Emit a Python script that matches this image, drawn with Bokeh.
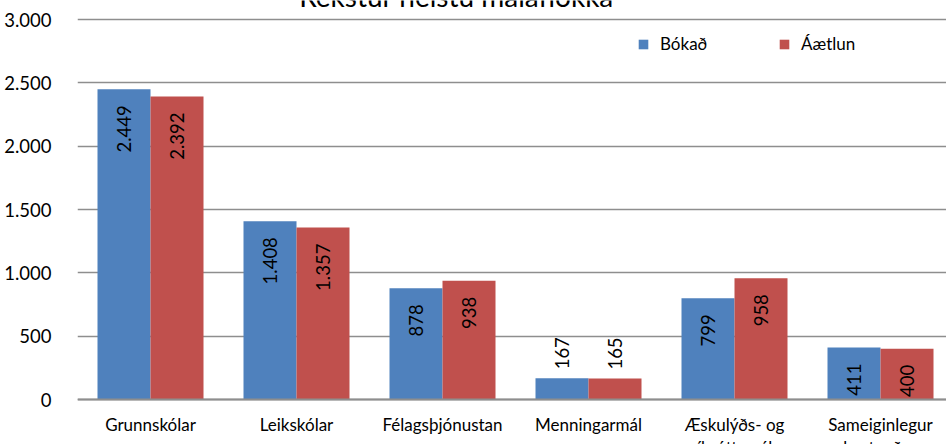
import math
from bokeh.plotting import figure
from bokeh.models import Range1d, FixedTicker, ColumnDataSource, Legend, LegendItem
from bokeh.core.properties import value
from bokeh.embed import file_html
from bokeh.resources import INLINE

# ---- data ----
title_text = "Rekstur helstu málaflokka"
categories = ["Grunnskólar", "Leikskólar", "Félagsþjónustan", "Menningarmál",
              "Æskulýðs- og\níþróttamál", "Sameiginlegur\nkostnaður"]
series_names = ["Bókað", "Áætlun"]
bokad = [2449, 1408, 878, 167, 799, 411]
aaetlun = [2392, 1357, 938, 165, 958, 400]
y_ticks = [0, 500, 1000, 1500, 2000, 2500, 3000]
y_tick_labels = ["0", "500", "1.000", "1.500", "2.000", "2.500", "3.000"]

# ---- style ----
FONT = "Lato"
FS = "17px"
NFS = "18.5px"
BLUE = "#4F81BD"
RED = "#C0504D"
GRID = "#8e8e8e"

W, H = 946, 444
FRAME_LEFT = 77
ZERO_Y = 399          # pixel row of the value 0
PX_PER_UNIT = 380 / 3000.0
FRAME_W = W - FRAME_LEFT
CAT_PX = 146.0
BAR_W = 53 / CAT_PX

def fmt(v):
    return f"{v:,}".replace(",", ".")

p = figure(width=W, height=H, output_backend="svg", toolbar_location=None,
           x_range=Range1d(0, FRAME_W / CAT_PX),
           y_range=Range1d(-(H - ZERO_Y) / PX_PER_UNIT, ZERO_Y / PX_PER_UNIT),
           min_border_left=FRAME_LEFT, min_border_right=0, min_border_top=0,
           min_border_bottom=0)
p.outline_line_color = None
p.background_fill_color = "white"
p.border_fill_color = "white"

p.xgrid.grid_line_color = None
p.ygrid.ticker = FixedTicker(ticks=y_ticks)
p.ygrid.grid_line_color = GRID
p.ygrid.grid_line_width = 1.5

renderers = []
for k, (vals, color) in enumerate(zip([bokad, aaetlun], [BLUE, RED])):
    off = (-0.5 + k) * BAR_W
    xs = [i + 0.5 + off for i in range(len(categories))]
    src = ColumnDataSource(dict(x=xs, top=vals))
    r = p.vbar(x="x", top="top", width=BAR_W, bottom=0, source=src,
               fill_color=color, line_color=None)
    renderers.append(r)
    # value labels: inside end when they fit, else outside end
    inside = [v * PX_PER_UNIT > 45 for v in vals]
    ins = ColumnDataSource(dict(x=[x for x, f in zip(xs, inside) if f],
                                y=[v for v, f in zip(vals, inside) if f],
                                t=[fmt(v) for v, f in zip(vals, inside) if f]))
    outs = ColumnDataSource(dict(x=[x for x, f in zip(xs, inside) if not f],
                                 y=[v for v, f in zip(vals, inside) if not f],
                                 t=[fmt(v) for v, f in zip(vals, inside) if not f]))
    p.text(x="x", y="y", text="t", source=ins, angle=math.pi / 2,
           text_align="right", text_baseline="middle", y_offset=16,
           text_font=value(FONT), text_font_size=NFS, text_color="black")
    p.text(x="x", y="y", text="t", source=outs, angle=math.pi / 2,
           text_align="left", text_baseline="middle", y_offset=-9,
           text_font=value(FONT), text_font_size=NFS, text_color="black")

# title (cut by the top edge of the window as in the reference)
p.text(x=[(456 - FRAME_LEFT) / CAT_PX], y=[ZERO_Y / PX_PER_UNIT], text=[title_text],
       text_align="center", text_baseline="alphabetic", y_offset=-5,
       text_font=value(FONT), text_font_size="28px", text_color="black")

# x axis drawn at value 0 (its labels run off the bottom edge like the reference)
p.xaxis.fixed_location = 0
p.xaxis.ticker = FixedTicker(ticks=[i + 0.5 for i in range(len(categories))])
p.xaxis.major_label_overrides = {i + 0.5: c for i, c in enumerate(categories)}
p.xaxis.axis_line_color = GRID
p.xaxis.axis_line_width = 2
p.xaxis.major_tick_line_color = None
p.xaxis.minor_tick_line_color = None
p.xaxis.major_label_standoff = 8
p.xaxis.major_label_text_font = FONT
p.xaxis.major_label_text_font_size = FS
p.xaxis.major_label_text_color = "black"
p.xaxis.major_label_text_line_height = 1.1

p.yaxis.ticker = FixedTicker(ticks=y_ticks)
p.yaxis.major_label_overrides = {t: l for t, l in zip(y_ticks, y_tick_labels)}
p.yaxis.axis_line_color = None
p.yaxis.major_tick_line_color = None
p.yaxis.minor_tick_line_color = None
p.yaxis.major_label_standoff = 20
p.yaxis.major_label_text_font = FONT
p.yaxis.major_label_text_font_size = NFS
p.yaxis.major_label_text_color = "black"

legend = Legend(items=[LegendItem(label=n, renderers=[r]) for n, r in zip(series_names, renderers)],
                orientation="horizontal", location=(560, 390),
                glyph_width=12, glyph_height=12, label_standoff=11, spacing=0,
                label_width=118, padding=0, margin=0,
                border_line_color=None, background_fill_alpha=0,
                label_text_font=FONT, label_text_font_size=FS, label_text_color="black")
p.add_layout(legend, "center")

open("out.html", "w").write(file_html(p, INLINE))
